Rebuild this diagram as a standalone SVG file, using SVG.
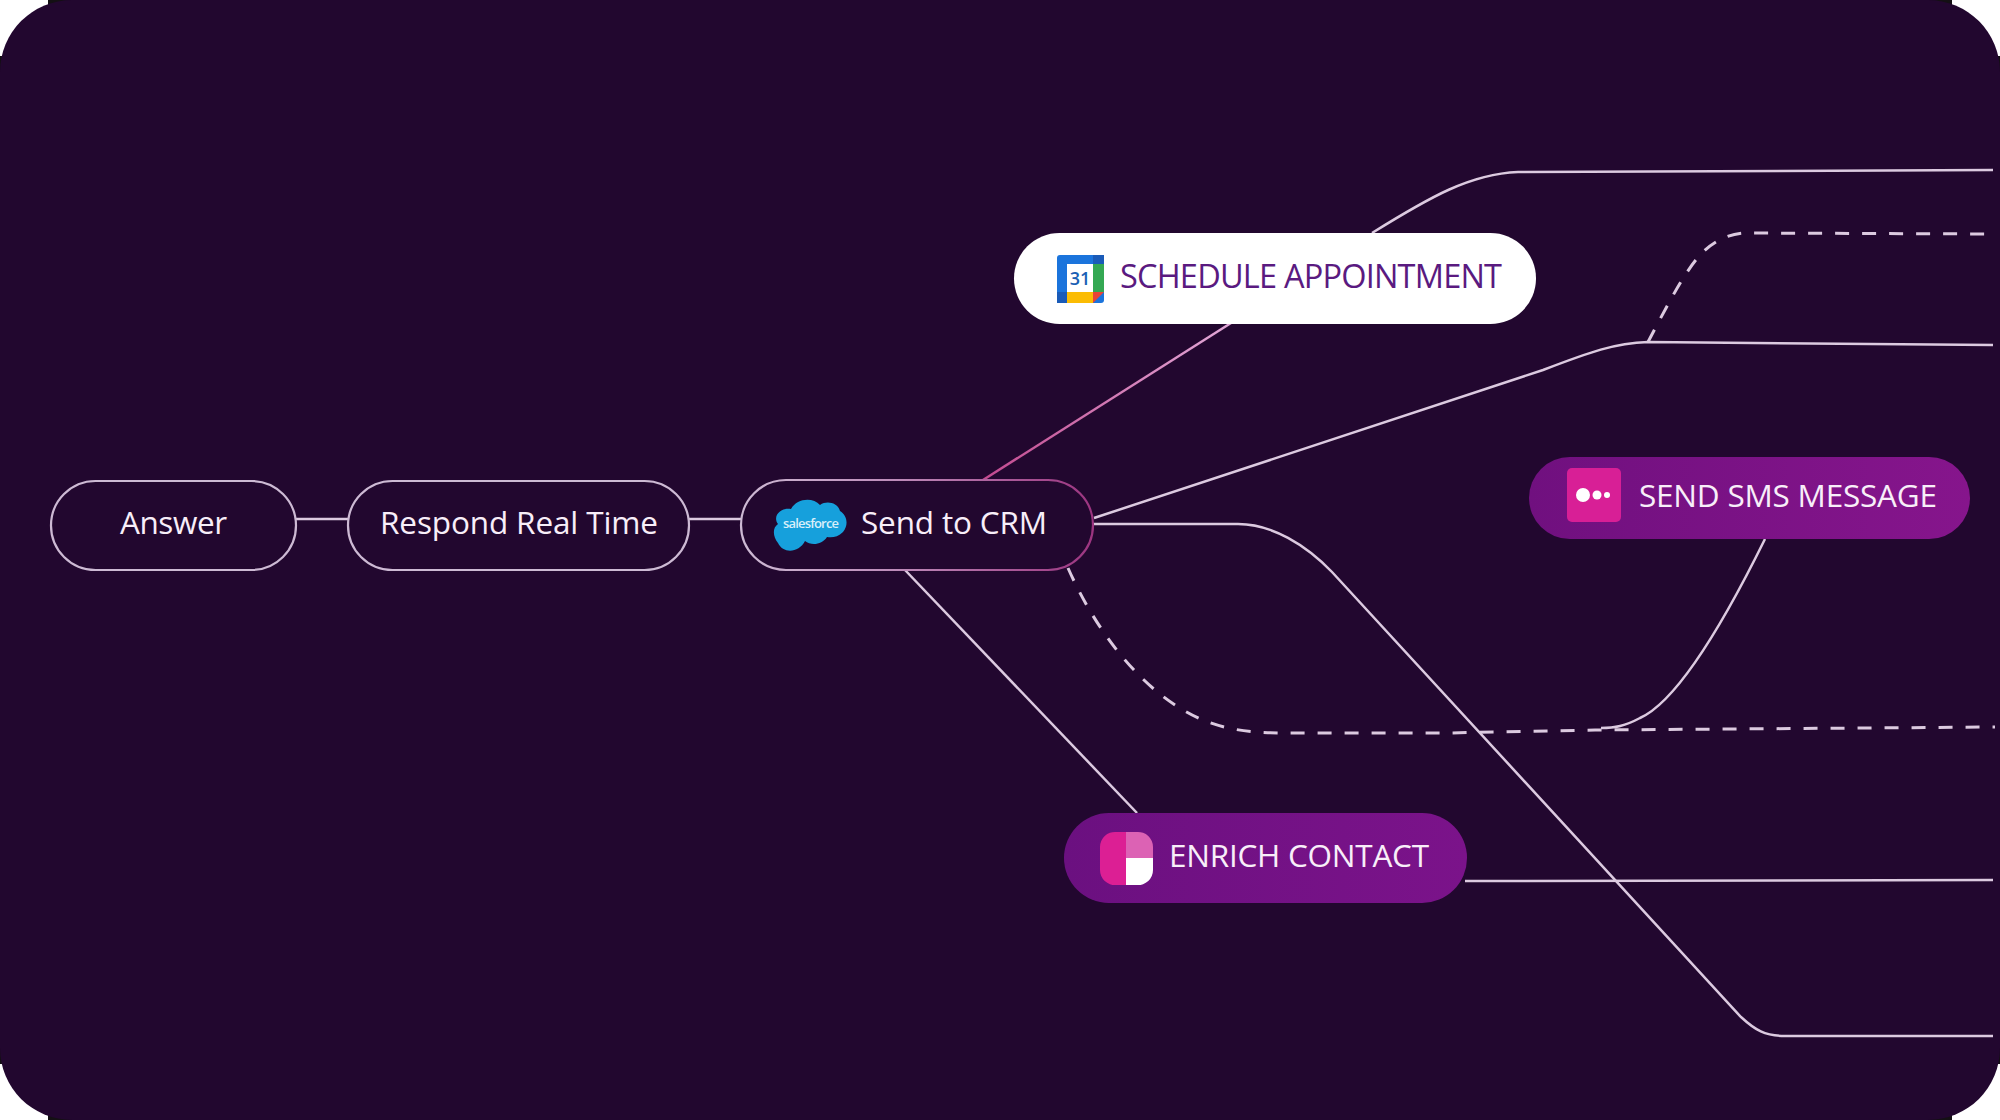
<svg xmlns="http://www.w3.org/2000/svg" width="2000" height="1120" viewBox="0 0 2000 1120">
<style>
.t{font-family:"Open Sans","Noto Sans","DejaVu Sans",sans-serif;font-size:31.5px}
.w{fill:#f8eef9}
.n{fill:#22072f;stroke:#cdbad4;stroke-width:2.2}
.c{fill:none;stroke:#dccae0;stroke-width:2.5}
.d{stroke-dasharray:14 13;stroke-width:3}
</style>
<defs>
<linearGradient id="crm" x1="0" x2="1" y1="0" y2="0"><stop offset="0" stop-color="#cdbad4"/><stop offset=".45" stop-color="#bd8ab9"/><stop offset="1" stop-color="#9c3480"/></linearGradient>
<linearGradient id="pink" gradientUnits="userSpaceOnUse" x1="983" y1="480" x2="1231" y2="323"><stop offset="0" stop-color="#c2498f"/><stop offset="1" stop-color="#e2a8d8"/></linearGradient>
<linearGradient id="pur" x1="0" x2="1" y1="0" y2="0"><stop offset="0" stop-color="#6b1080"/><stop offset="1" stop-color="#7b138a"/></linearGradient>
<linearGradient id="pur2" x1="0" x2="1" y1="0" y2="0"><stop offset="0" stop-color="#70107f"/><stop offset="1" stop-color="#86158c"/></linearGradient>
</defs>
<rect id="backdrop" width="2000" height="1120" fill="#fff"/>
<g id="frame">
<rect x="0" y="0" width="2000" height="1120" fill="#141014"/>
<g fill="#fff">
<path id="cn" d="M0 0H48V8H40V16H32V24H24V32H16V40H8V56H0Z"/>
<use href="#cn" transform="translate(2000 0) scale(-1 1)"/>
<use href="#cn" transform="translate(0 1120) scale(1 -1)"/>
<use href="#cn" transform="translate(2000 1120) scale(-1 -1)"/>
</g>
<rect x="0" y="0" width="2000" height="1120" rx="72" ry="72" fill="#22072f"/>
</g>
<g id="connectors">
<path class="c" d="M296 519H348"/>
<path class="c" d="M689 519H741"/>
<path class="c" d="M983 480L1231 323" style="stroke:url(#pink)"/>
<path class="c" d="M1372 233C1430 197 1470 174 1518 172L1993 170"/>
<path class="c" d="M1094 518L1543 370C1590 352 1615 343 1648 342L1993 345"/>
<path class="c d" d="M1648 342C1665 310 1685 270 1702 253C1715 240 1730 234 1743 233L1995 234"/>
<path class="c" d="M1093 524H1238C1272 524 1306 545 1332 572L1741 1017C1755 1030 1765 1036 1785 1036L1993 1036"/>
<path class="c d" d="M1068 568C1100 640 1150 700 1208 722C1235 732 1262 733 1288 733L1447 733L1595 730L1995 727"/>
<path class="c" d="M1765 539C1730 610 1680 700 1640 718C1625 726 1615 728 1601 728"/>
<path class="c" d="M905 570L1137 813"/>
<path class="c" d="M1465 881L1993 880"/>
</g>
<g id="answer"><rect class="n" x="51" y="481" width="245" height="89" rx="44.5"/><text class="t w" x="120" y="534" textLength="107">Answer</text></g>
<g id="respond"><rect class="n" x="348" y="481" width="341" height="89" rx="44.5"/><text class="t w" x="380" y="534" textLength="278">Respond Real Time</text></g>
<g id="crm-node"><rect x="741" y="480" width="352" height="90" rx="45" fill="#22072f" stroke="url(#crm)" stroke-width="2.2"/>
<path fill="#16a0dc" d="M791 509C797 498 813 497 820 505C827 500 838 503 840 511C847 515 849 525 843 532C838 537 832 538 827 537C822 545 811 546 805 541C799 553 783 554 778 543C773 537 772 528 778 524C772 516 781 507 791 509Z"/>
<text x="811" y="528" font-family="'Open Sans',sans-serif" font-size="13" font-weight="600" fill="#d8effa" text-anchor="middle" textLength="56">salesforce</text>
<text class="t w" x="861" y="534" textLength="186">Send to CRM</text></g>
<g id="schedule"><rect x="1014" y="233" width="522" height="91" rx="45.5" fill="#fff"/>
<g id="cal">
<rect x="1057" y="255" width="47" height="48" rx="3" fill="#1b74dc"/>
<rect x="1093" y="255" width="11" height="9" fill="#1a5bb8"/>
<rect x="1057" y="292" width="10" height="11" fill="#1a5bb8"/>
<rect x="1093" y="264" width="11" height="28" fill="#34a853"/>
<path d="M1067 292H1093V303H1067Z" fill="#fbbc04"/>
<path d="M1093 292H1104L1093 303Z" fill="#ea4335"/>
<rect x="1067" y="264" width="26" height="28" fill="#fff"/>
<text x="1080" y="285" font-family="'Open Sans',sans-serif" font-size="18" font-weight="600" fill="#1a5fb4" text-anchor="middle">31</text>
</g>
<text class="t" fill="#5a1a80" x="1120" y="288" textLength="382" style="font-size:32.5px">SCHEDULE APPOINTMENT</text></g>
<g id="sms"><rect x="1529" y="457" width="441" height="82" rx="41" fill="url(#pur2)"/>
<rect x="1567" y="468" width="54" height="54" rx="5" fill="#d81f96"/>
<circle cx="1583" cy="495" r="7" fill="#fff"/><circle cx="1597" cy="495" r="4.5" fill="#fff"/><circle cx="1607" cy="495" r="3" fill="#fff"/>
<text class="t w" x="1639" y="507" textLength="298">SEND SMS MESSAGE</text></g>
<g id="enrich"><rect x="1064" y="813" width="403" height="90" rx="45" fill="url(#pur)"/>
<path d="M1126 832V885H1116A15 15 0 0 1 1100 870V847A15 15 0 0 1 1116 832Z" fill="#dc1f94"/>
<path d="M1126 832H1137A15 15 0 0 1 1153 847V858H1126Z" fill="#dc62b4"/>
<path d="M1126 858H1153V870A15 15 0 0 1 1137 885H1126Z" fill="#fff"/>
<text class="t w" x="1169" y="867" textLength="260">ENRICH CONTACT</text></g>
</svg>
